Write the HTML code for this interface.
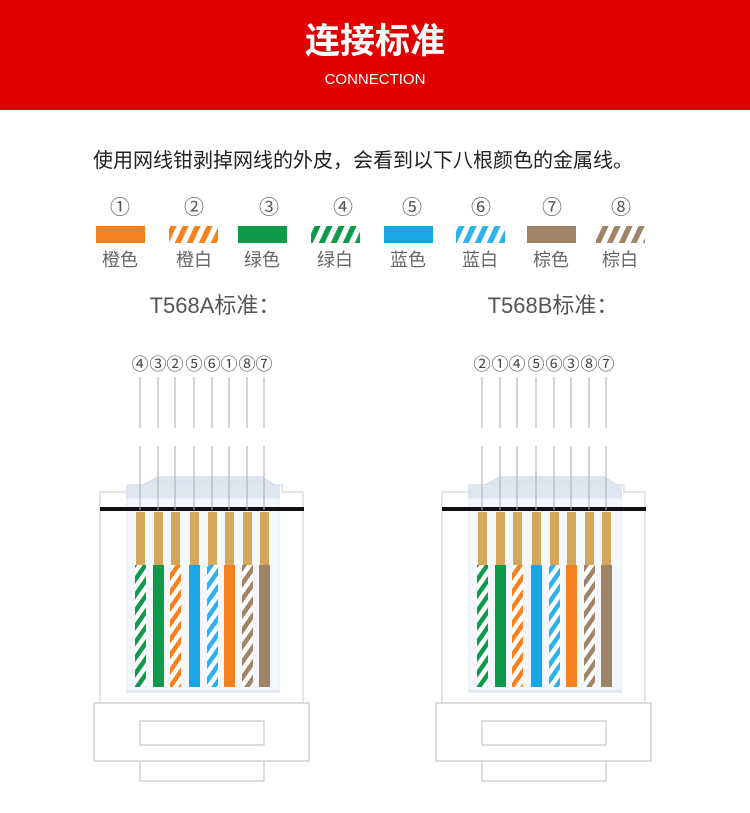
<!DOCTYPE html>
<html><head><meta charset="utf-8"><style>
body{margin:0;width:750px;height:808px;background:#fff;overflow:hidden;font-family:"Liberation Sans","Noto Sans CJK SC",sans-serif;}
</style></head><body>
<svg width="750" height="808" xmlns="http://www.w3.org/2000/svg" font-family="Liberation Sans, Noto Sans CJK SC, sans-serif">
<defs>
<pattern id="so" width="9" height="9" patternUnits="userSpaceOnUse" patternTransform="rotate(35)"><rect width="9" height="9" fill="#fff"/><rect width="4.5" height="9" fill="#f5821f"/></pattern>
<pattern id="sg" width="9" height="9" patternUnits="userSpaceOnUse" patternTransform="rotate(35)"><rect width="9" height="9" fill="#fff"/><rect width="4.5" height="9" fill="#0e9a4a"/></pattern>
<pattern id="sb" width="9" height="9" patternUnits="userSpaceOnUse" patternTransform="rotate(35)"><rect width="9" height="9" fill="#fff"/><rect width="4.5" height="9" fill="#2db2ec"/></pattern>
<pattern id="sn" width="9" height="9" patternUnits="userSpaceOnUse" patternTransform="rotate(35)"><rect width="9" height="9" fill="#fff"/><rect width="4.5" height="9" fill="#a08468"/></pattern>
<pattern id="so2" width="12" height="16" patternUnits="userSpaceOnUse" patternTransform="skewX(-25)"><rect width="6" height="16" fill="#f5821f"/></pattern>
<pattern id="sg2" width="12" height="16" patternUnits="userSpaceOnUse" patternTransform="skewX(-25)"><rect width="6" height="16" fill="#0e9a4a"/></pattern>
<pattern id="sb2" width="12" height="16" patternUnits="userSpaceOnUse" patternTransform="skewX(-25)"><rect width="6" height="16" fill="#2db2ec"/></pattern>
<pattern id="sn2" width="12" height="16" patternUnits="userSpaceOnUse" patternTransform="skewX(-25)"><rect width="6" height="16" fill="#a08468"/></pattern>
</defs>
<rect width="750" height="110" fill="#e10000"/>
<text x="375" y="53" text-anchor="middle" fill="#fff" font-size="35" font-weight="bold">连接标准</text>
<text x="375" y="84" text-anchor="middle" fill="#fff" font-size="15">CONNECTION</text>
<text x="93" y="167" fill="#222" font-size="20">使用网线钳剥掉网线的外皮，会看到以下八根颜色的金属线。</text>
<g font-size="20" fill="#555" text-anchor="middle">
<text x="120" y="214">①</text><text x="194" y="214">②</text><text x="269" y="214">③</text><text x="343" y="214">④</text><text x="412" y="214">⑤</text><text x="481" y="214">⑥</text><text x="552" y="214">⑦</text><text x="621" y="214">⑧</text>
</g>
<rect x="96" y="226" width="49" height="17" fill="#f5821f"/>
<rect x="169" y="226" width="49" height="17" fill="url(#so2)"/>
<rect x="238" y="226" width="49" height="17" fill="#0e9a4a"/>
<rect x="311" y="226" width="49" height="17" fill="url(#sg2)"/>
<rect x="384" y="226" width="49" height="17" fill="#19a6e4"/>
<rect x="456" y="226" width="49" height="17" fill="url(#sb2)"/>
<rect x="527" y="226" width="49" height="17" fill="#a08468"/>
<rect x="596" y="226" width="49" height="17" fill="url(#sn2)"/>
<g font-size="18" fill="#666" text-anchor="middle">
<text x="120" y="266">橙色</text><text x="194" y="266">橙白</text><text x="262" y="266">绿色</text><text x="335" y="266">绿白</text><text x="408" y="266">蓝色</text><text x="480" y="266">蓝白</text><text x="551" y="266">棕色</text><text x="620" y="266">棕白</text>
</g>
<text x="215" y="313" text-anchor="middle" font-size="22" fill="#555">T568A标准：</text>
<text x="553" y="313" text-anchor="middle" font-size="22" fill="#555">T568B标准：</text>
<g id="c1"></g><g id="c2"></g>
</svg>
<script>
function conn(g,ox,nums){
 var s='';
 var xs=[140,158,175,194,212,229,247,264];
 var fills=['url(#sg)','#0e9a4a','url(#so)','#19a6e4','url(#sb)','#f5821f','url(#sn)','#a08468'];
 s+='<g transform="translate('+ox+',0)">';
 s+='<path d="M100 703 V492 H128 V485 H143 L158 477 H262 L275 485 H282 V492 H303 V703" fill="none" stroke="#ccc" stroke-width="1"/>';
 s+='<path d="M143 485 L158 477 H262 L275 485 Z" fill="#dbe4f0"/>';
 s+='<rect x="126" y="485" width="154" height="207" fill="#eef3f9"/>';
 s+='<rect x="126" y="485" width="154" height="13" fill="#dde6f1"/>';
 s+='<rect x="128" y="500" width="150" height="192" fill="#f4f7fb"/>';
 s+='<rect x="100" y="507" width="204" height="4" fill="#111"/>';
 s+='<rect x="126" y="690" width="154" height="3" fill="#e3e8ef"/>';
 for(var i=0;i<8;i++){var x=xs[i];
  s+='<line x1="'+x+'" y1="377" x2="'+x+'" y2="428" stroke="#aaa" stroke-width="1"/>';
  s+='<line x1="'+x+'" y1="446" x2="'+x+'" y2="510" stroke="#aaa" stroke-width="1"/>';
  s+='<text x="'+(x)+'" y="370" text-anchor="middle" font-size="17" fill="#444">'+nums[i]+'</text>';
  s+='<rect x="'+(x-4)+'" y="512" width="9" height="53" fill="#d4a85a"/>';
  s+='<rect x="'+(x-5)+'" y="565" width="11" height="122" fill="'+fills[i]+'"/>';
 }
 s+='<rect x="94" y="703" width="215" height="58" fill="#fff" stroke="#bbb"/>';
 s+='<rect x="140" y="721" width="124" height="24" fill="#fff" stroke="#bbb"/>';
 s+='<rect x="140" y="761" width="124" height="20" fill="#fff" stroke="#bbb"/>';
 s+='</g>';
 document.getElementById(g).innerHTML=s;
}
conn('c1',0,['④','③','②','⑤','⑥','①','⑧','⑦']);
conn('c2',342,['②','①','④','⑤','⑥','③','⑧','⑦']);
</script>
</body></html>
